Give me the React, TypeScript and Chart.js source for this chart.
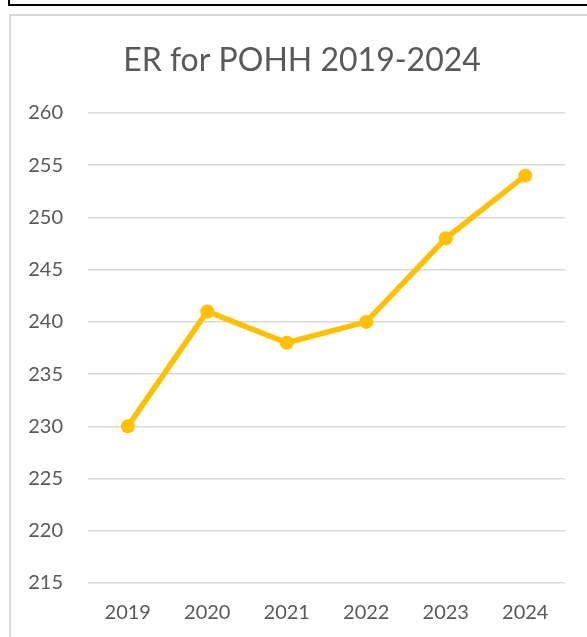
import React, { useEffect, useRef } from "react";
import { Chart, registerables } from "chart.js";

Chart.register(...registerables);

const categories = ["2019", "2020", "2021", "2022", "2023", "2024"];
const erValues = [230, 241, 238, 240, 248, 254];
const yMin = 215;
const yMax = 260;
const yStep = 5;
const titleText = "ER for POHH 2019-2024";

const FONT = "Lato, 'Open Sans', sans-serif";
const TEXT = "#595959";

export default function App() {
  const ref = useRef<HTMLCanvasElement | null>(null);

  useEffect(() => {
    if (!ref.current) return;
    document.body.style.overflow = "hidden";
    const chart = new Chart(ref.current, {
      type: "line",
      data: {
        labels: categories,
        datasets: [
          {
            label: "ER",
            data: erValues,
            borderColor: "#FFC000",
            backgroundColor: "#FFC000",
            borderWidth: 5.5,
            pointRadius: 7,
            pointHoverRadius: 7,
            pointBorderWidth: 0,
            pointBackgroundColor: "#FFC000",
            tension: 0,
            fill: false,
            yAxisID: "y",
          },
        ],
      },
      options: {
        animation: false,
        responsive: false,
        maintainAspectRatio: false,
        layout: { padding: { left: 0, right: 0, top: 0, bottom: 0 } },
        plugins: {
          legend: { display: false },
          tooltip: { enabled: false },
          title: {
            display: true,
            text: titleText,
            color: TEXT,
            font: { family: FONT, size: 32, weight: "normal" as any, lineHeight: 1.2 },
            padding: { top: 25, bottom: 33.6 },
          },
        },
        scales: {
          x: {
            offset: true,
            grid: { display: false, drawTicks: false },
            border: { display: false },
            ticks: {
              color: TEXT,
              font: { family: FONT, size: 20 },
              padding: 18,
              maxRotation: 0,
            },
            afterFit: (scale: any) => {
              scale.height = 73;
            },
          },
          y: {
            position: "left",
            min: yMin,
            max: yMax,
            grid: { color: "#d9d9d9", lineWidth: 1.5, drawTicks: false },
            border: { display: false },
            ticks: {
              stepSize: yStep,
              color: TEXT,
              font: { family: FONT, size: 20 },
              padding: 25,
            },
            afterFit: (scale: any) => {
              scale.width = 77;
            },
          },
          yRight: {
            type: "linear",
            position: "right",
            min: yMin,
            max: yMax,
            grid: { display: false, drawTicks: false },
            border: { display: false },
            ticks: { display: false },
            afterFit: (scale: any) => {
              scale.width = 28;
            },
          },
        },
      },
    });
    return () => chart.destroy();
  }, []);

  return (
    <div>
      <div
        style={{
          position: "fixed",
          left: 8,
          top: -40,
          width: 620,
          height: 46,
          boxSizing: "border-box",
          border: "2px solid #000",
          background: "#fff",
        }}
      />
      <div
        style={{
          position: "fixed",
          left: 9,
          top: 14,
          width: 620,
          height: 660,
          boxSizing: "border-box",
          border: "2px solid #d9d9d9",
          background: "#fff",
          overflow: "hidden",
        }}
      >
        <canvas ref={ref} width={582} height={640} style={{ display: "block" }} />
      </div>
    </div>
  );
}
